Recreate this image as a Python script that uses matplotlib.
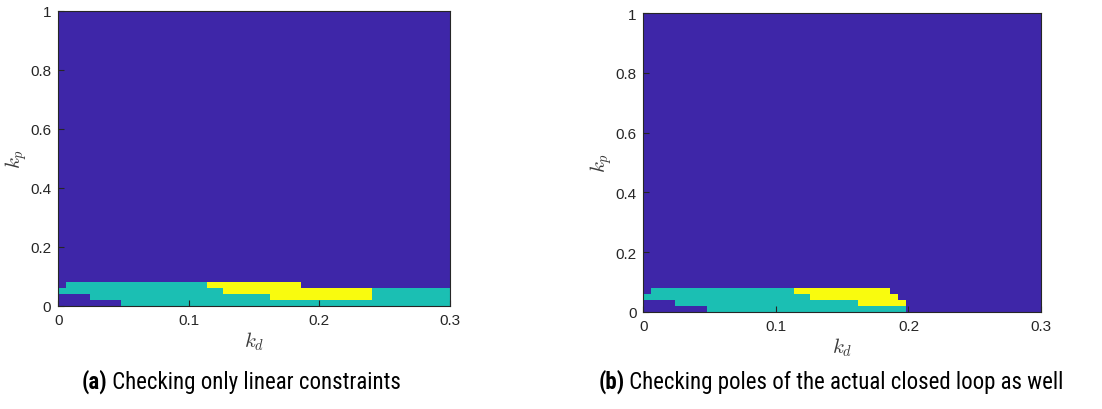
import numpy as np
import matplotlib
matplotlib.use("Agg")
import matplotlib.pyplot as plt
from matplotlib.colors import ListedColormap, BoundaryNorm

# grid of the parameter sweep
kd_step = 0.006
kp_step = 0.02
n_kd = 50
n_kp = 50

# cell classes per kp row (bottom rows only, everything above is 0),
# stored as run lengths: (number of kd cells, class)
runs_a = [
    [(8, 0), (42, 1)],                         # kp 0.00-0.02
    [(4, 0), (23, 1), (13, 2), (10, 1)],       # kp 0.02-0.04
    [(21, 1), (19, 2), (10, 1)],               # kp 0.04-0.06
    [(1, 0), (18, 1), (12, 2), (19, 0)],       # kp 0.06-0.08
]
runs_b = [
    [(8, 0), (25, 1), (17, 0)],
    [(4, 0), (23, 1), (6, 2), (17, 0)],
    [(21, 1), (11, 2), (18, 0)],
    [(1, 0), (18, 1), (12, 2), (19, 0)],
]

captions = [("(a)", "Checking only linear constraints"),
            ("(b)", "Checking poles of the actual closed loop as well")]
xticks = [0, 0.1, 0.2, 0.3]
xticklabels = ["0", "0.1", "0.2", "0.3"]
yticks = [0, 0.2, 0.4, 0.6, 0.8, 1]
yticklabels = ["0", "0.2", "0.4", "0.6", "0.8", "1"]

colors = ["#3E26A8", "#1BBFB3", "#F9FB0E"]
txt_col = "#262626"
cap_fonts = ['Roboto Condensed', 'Liberation Sans Narrow', 'DejaVu Sans']


def build_grid(runs):
    grid = np.zeros((n_kp, n_kd))
    for j, row in enumerate(runs):
        vals = np.concatenate([np.full(n, c) for n, c in row])
        grid[j, :len(vals)] = vals
    return grid


plt.rcParams['mathtext.fontset'] = 'cm'
fig = plt.figure(figsize=(11.02, 4.10), dpi=100)

cmap = ListedColormap(colors)
norm = BoundaryNorm([-0.5, 0.5, 1.5, 2.5], 3)
kd_edges = np.arange(n_kd + 1) * kd_step
kp_edges = np.arange(n_kp + 1) * kp_step

rects = [[0.0529, 0.252, 0.3554, 0.7195],
         [0.5838, 0.2373, 0.3609, 0.7278]]
caption_x = [0.219, 0.754]

for rect, runs, cap, cx in zip(rects, [runs_a, runs_b], captions, caption_x):
    ax = fig.add_axes(rect)
    ax.pcolormesh(kd_edges, kp_edges, build_grid(runs), cmap=cmap, norm=norm)
    ax.set_xlim(0, 0.3)
    ax.set_ylim(0, 1)
    ax.set_xticks(xticks)
    ax.set_xticklabels(xticklabels)
    ax.set_yticks(yticks)
    ax.set_yticklabels(yticklabels)
    ax.tick_params(direction='in', length=4, width=0.8, colors=txt_col,
                   labelsize=11, pad=5)
    for lab in ax.get_xticklabels() + ax.get_yticklabels():
        lab.set_fontfamily('Liberation Sans')
    for sp in ax.spines.values():
        sp.set_color(txt_col)
        sp.set_linewidth(0.8)
    ax.set_xlabel(r'$k_d$', fontsize=15, color='#3a3a3a', labelpad=2)
    ax.set_ylabel(r'$k_p$', fontsize=15, color='#3a3a3a', labelpad=1)

    # caption with bold tag
    t1 = fig.text(0, 0.052, cap[0], fontsize=16.5, fontweight='bold',
                  family=cap_fonts, va='baseline')
    t2 = fig.text(0, 0.052, " " + cap[1], fontsize=16.5,
                  family=cap_fonts, va='baseline')
    r = fig.canvas.get_renderer()
    w1 = t1.get_window_extent(r).width / fig.bbox.width
    w2 = t2.get_window_extent(r).width / fig.bbox.width
    x0 = cx - (w1 + w2) / 2
    t1.set_x(x0)
    t2.set_x(x0 + w1)

fig.savefig("out.png", dpi=100)
